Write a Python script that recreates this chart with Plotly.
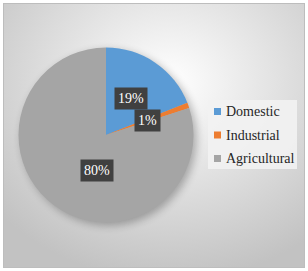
import math, base64
import plotly.graph_objects as go

categories = ["Domestic", "Industrial", "Agricultural"]
values = [19, 1, 80]
colors = ["#5B9BD5", "#ED7D31", "#A5A5A5"]

W, H = 308, 271
cx, cy, R = 106, 135, 87.5  # pie centre / radius in px (from top-left)
SERIF = "Liberation Serif"

svg = f'''<svg xmlns="http://www.w3.org/2000/svg" width="{W}" height="{H}" viewBox="0 0 {W} {H}">
<defs>
<radialGradient id="g" cx="0.55" cy="0.3" r="0.75">
<stop offset="0" stop-color="#ffffff"/>
<stop offset="1" stop-color="#c2c2c2"/>
</radialGradient>
<filter id="b" x="-30%" y="-30%" width="160%" height="160%"><feGaussianBlur stdDeviation="4"/></filter>
</defs>
<rect x="0" y="0" width="{W}" height="{H}" fill="#ffffff"/>
<rect x="3.5" y="3.5" width="{W-7}" height="{H-7}" fill="url(#g)" stroke="#bdbdbd" stroke-width="1"/>
<circle cx="{cx+3}" cy="{cy+3}" r="{R}" fill="#000" opacity="0.28" filter="url(#b)"/>
<rect x="208" y="100" width="89" height="69" fill="#f2f2f2" opacity="0.9"/>
</svg>'''
src = "data:image/svg+xml;base64," + base64.b64encode(svg.encode()).decode()

dom_x = [(cx - R) / W, (cx + R) / W]
dom_y = [(H - cy - R) / H, (H - cy + R) / H]

fig = go.Figure(go.Pie(
    labels=categories, values=values, sort=False, direction="clockwise",
    marker=dict(colors=colors, line=dict(width=0)),
    textinfo="none", hoverinfo="skip", showlegend=False,
    domain=dict(x=dom_x, y=dom_y),
))

# data labels at half radius along each slice's mid angle
total = sum(values)
cum = 0
for v in values:
    mid = (cum + v / 2) / total * 2 * math.pi
    cum += v
    px = cx + 0.5 * R * math.sin(mid)
    py = cy - 0.5 * R * math.cos(mid)
    fig.add_annotation(x=px / W, y=1 - py / H, xref="paper", yref="paper",
                       text=f"{round(v / total * 100)}%", showarrow=False,
                       font=dict(family=SERIF, size=14, color="#ffffff"),
                       bgcolor="#404040", borderpad=3)

# legend (manual)
row_y0, row_dy = 111.5, 23.5
for i, (name, col) in enumerate(zip(categories, colors)):
    y = row_y0 + i * row_dy
    fig.add_shape(type="rect", xref="paper", yref="paper",
                  x0=214 / W, x1=221 / W, y0=1 - (y + 3.5) / H, y1=1 - (y - 3.5) / H,
                  fillcolor=col, line=dict(width=0))
    fig.add_annotation(x=224 / W, y=1 - y / H, xref="paper", yref="paper",
                       xanchor="left", yanchor="middle", text=name, showarrow=False,
                       font=dict(family=SERIF, size=14, color="#262626"))

fig.update_layout(
    width=W, height=H, margin=dict(l=0, r=0, t=0, b=0),
    paper_bgcolor="rgba(0,0,0,0)", plot_bgcolor="rgba(0,0,0,0)",
    images=[dict(source=src, xref="paper", yref="paper", x=0, y=1, sizex=1, sizey=1,
                 xanchor="left", yanchor="top", sizing="stretch", layer="below")],
    showlegend=False,
)

fig.write_html("out.html", config={"displayModeBar": False},
               post_script="document.body.style.margin='0';")
